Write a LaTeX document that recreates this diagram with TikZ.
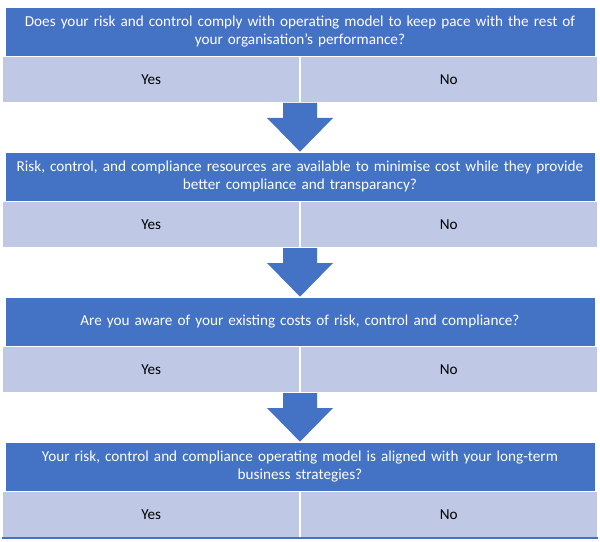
\documentclass[tikz,border=0pt]{standalone}
\usepackage{fontspec}
\setmainfont{Carlito}
\usetikzlibrary{positioning, calc}

\definecolor{qblue}{RGB}{68, 114, 196}
\definecolor{rowblue}{RGB}{191, 201, 230}

\begin{document}
\begin{tikzpicture}[x = 0.75pt, y = -0.75pt, font = \fontsize{11.4}{13}\selectfont,
	question/.style = {fill = qblue, draw = white, line width = 0.5pt, text = white,
		minimum width = 442.5pt, minimum height = 36.75pt, text width = 440pt,
		align = center, inner sep = 0pt},
	answer/.style = {fill = rowblue, draw = white, line width = 0.5pt,
		minimum width = 222.75pt, minimum height = 34.5pt, inner sep = 0pt},
	blockarrow/.style = {fill = qblue}]

	\useasboundingbox (0, 0) rectangle (600, 542);

	% Questions with yes / no rows
	
	\node [question] (q1) at (300, 31.5) {Does your risk and control comply with operating model to keep pace with the rest of\\ your organisation's performance?};
	\node [answer, anchor = north east] (yes1) at (q1.south) {Yes};
	\node [answer, anchor = north west] (no1) at (q1.south) {No};
	
	\node [question, below = 36.5pt of yes1.south east] (q2) {Risk, control, and compliance resources are available to minimise cost while they provide\\ better compliance and transparancy?};
	\node [answer, anchor = north east] (yes2) at (q2.south) {Yes};
	\node [answer, anchor = north west] (no2) at (q2.south) {No};
	
	\node [question, below = 36.5pt of yes2.south east] (q3) {Are you aware of your existing costs of risk, control and compliance?};
	\node [answer, anchor = north east] (yes3) at (q3.south) {Yes};
	\node [answer, anchor = north west] (no3) at (q3.south) {No};
	
	\node [question, below = 36.5pt of yes3.south east] (q4) {Your risk, control and compliance operating model is aligned with your long-term\\ business strategies?};
	\node [answer, anchor = north east] (yes4) at (q4.south) {Yes};
	\node [answer, anchor = north west] (no4) at (q4.south) {No};
	
	\draw [qblue, line width = 1pt] (yes4.south west) -- (no4.south east);
	
	% Block arrows between the questions
	
	\foreach \a/\b in {yes1/q2, yes2/q3, yes3/q4}
		\fill [blockarrow] ($(\a.south east) + (-17, 0)$) -- ($(\a.south east) + (17, 0)$)
			-- ($(\a.south east) + (17, 15)$) -- ($(\a.south east) + (33, 15)$)
			-- (\b.north) -- ($(\a.south east) + (-33, 15)$)
			-- ($(\a.south east) + (-17, 15)$) -- cycle;

\end{tikzpicture}
\end{document}
